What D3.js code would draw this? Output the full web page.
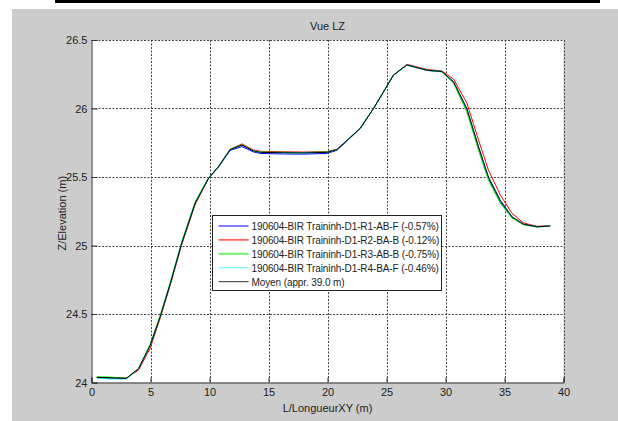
<!DOCTYPE html>
<html>
<head>
<meta charset="utf-8">
<script src="https://cdn.jsdelivr.net/npm/d3@7"></script>
<style>
  body { margin: 0; background: #fff; }
  text { font-family: "Liberation Sans", Arial, sans-serif; fill: #222; }
</style>
</head>
<body>
<svg id="chart"></svg>
<script>
// distance along profile (m)
const dist = [0.45, 1.5, 2.95, 3.98, 4.97, 5.82, 6.67, 7.66, 8.79, 9.92, 10.76, 11.75, 12.75, 13.73, 14.3, 16.27, 18.0, 19.95, 20.8, 22.77, 23.9, 25.6, 26.73, 28.42, 29.69, 30.68, 31.81, 32.8, 33.64, 34.64, 35.63, 36.6, 37.74, 38.87];

const zR1 = [24.036, 24.033, 24.030, 24.10, 24.27, 24.48, 24.72, 25.02, 25.31, 25.49, 25.572, 25.695, 25.722, 25.683, 25.672, 25.668, 25.667, 25.672, 25.695, 25.853, 26.0, 26.245, 26.318, 26.278, 26.268, 26.19, 25.99, 25.71, 25.49, 25.32, 25.205, 25.155, 25.137, 25.142];
const zR2 = [24.038, 24.036, 24.032, 24.09, 24.25, 24.47, 24.71, 25.01, 25.30, 25.49, 25.575, 25.702, 25.742, 25.697, 25.688, 25.684, 25.682, 25.686, 25.702, 25.855, 26.0, 26.245, 26.322, 26.285, 26.274, 26.215, 26.04, 25.77, 25.55, 25.37, 25.235, 25.165, 25.14, 25.144];
const zR3 = [24.042, 24.040, 24.031, 24.10, 24.28, 24.49, 24.73, 25.03, 25.32, 25.495, 25.578, 25.702, 25.735, 25.692, 25.683, 25.68, 25.679, 25.683, 25.70, 25.857, 26.0, 26.243, 26.316, 26.28, 26.268, 26.185, 25.975, 25.695, 25.475, 25.31, 25.2, 25.152, 25.135, 25.141];
const zR4 = [24.034, 24.026, 24.026, 24.10, 24.27, 24.48, 24.72, 25.02, 25.31, 25.49, 25.575, 25.70, 25.733, 25.69, 25.68, 25.677, 25.676, 25.68, 25.70, 25.855, 26.0, 26.247, 26.318, 26.28, 26.27, 26.196, 26.0, 25.72, 25.50, 25.33, 25.21, 25.156, 25.137, 25.142];
const zMoy = [24.037, 24.034, 24.030, 24.10, 24.27, 24.48, 24.72, 25.02, 25.31, 25.49, 25.575, 25.70, 25.733, 25.69, 25.68, 25.677, 25.676, 25.68, 25.70, 25.855, 26.0, 26.245, 26.318, 26.28, 26.27, 26.196, 26.0, 25.72, 25.50, 25.33, 25.21, 25.156, 25.137, 25.142];

const seriesNames = [
  "190604-BIR Traininh-D1-R1-AB-F (-0.57%)",
  "190604-BIR Traininh-D1-R2-BA-B (-0.12%)",
  "190604-BIR Traininh-D1-R3-AB-B (-0.75%)",
  "190604-BIR Traininh-D1-R4-BA-F (-0.46%)",
  "Moyen (appr. 39.0 m)"
];
const seriesColors = ["#0000ff", "#ff0000", "#00ee00", "#00ffff", "#000000"];
const legendColors = ["#8080ff", "#ff2020", "#70f070", "#70ffff", "#555555"];

const xTicks = [0, 5, 10, 15, 20, 25, 30, 35, 40];
const yTicks = [24, 24.5, 25, 25.5, 26, 26.5];

const width = 618, height = 421;
const svg = d3.select("#chart").attr("width", width).attr("height", height);

// window decoration
svg.append("rect").attr("x", 55).attr("y", 0).attr("width", 545).attr("height", 3).attr("fill", "#000");
svg.append("rect").attr("x", 12).attr("y", 9).attr("width", width - 12).attr("height", height - 9).attr("fill", "#cccccc");

const pLeft = 91.5, pRight = 563.5, pTop = 40, pBottom = 382.5;

const x = d3.scaleLinear().domain([0, 40]).range([pLeft, pRight]);
const y = d3.scaleLinear().domain([24, 26.5]).range([pBottom, pTop]);

svg.append("rect").attr("x", pLeft).attr("y", pTop)
  .attr("width", pRight - pLeft).attr("height", pBottom - pTop).attr("fill", "#fff");

// grid
const grid = svg.append("g").attr("stroke", "#444").attr("stroke-width", 1).attr("stroke-dasharray", "2,1.5");
grid.selectAll(".gx").data(xTicks.slice(1)).enter().append("line")
  .attr("x1", d => Math.round(x(d)) + 0.5).attr("x2", d => Math.round(x(d)) + 0.5)
  .attr("y1", pTop).attr("y2", pBottom);
grid.selectAll(".gy").data(yTicks.slice(1)).enter().append("line")
  .attr("y1", d => Math.round(y(d)) + 0.5).attr("y2", d => Math.round(y(d)) + 0.5)
  .attr("x1", pLeft).attr("x2", pRight);

// axes
const xAxis = d3.axisBottom(x).tickValues(xTicks).tickSize(-5).tickPadding(8);
const yAxis = d3.axisLeft(y).tickValues(yTicks).tickSize(-6).tickPadding(4).tickFormat(d3.format("~g"));

const gx = svg.append("g").attr("transform", `translate(0,${pBottom})`).call(xAxis);
const gy = svg.append("g").attr("transform", `translate(${pLeft},0)`).call(yAxis);
[gx, gy].forEach(g => {
  g.select(".domain").attr("stroke", "#333");
  g.selectAll(".tick line").attr("stroke", "#333");
  g.selectAll(".tick text").attr("font-size", 11).attr("fill", "#222")
    .style("font-family", "'Liberation Sans', Arial, sans-serif");
});
gx.selectAll(".tick text").attr("dy", "0.5em");

// lines
const allZ = [zR1, zR2, zR3, zR4, zMoy];
const line = d3.line().x(d => x(d[0])).y(d => y(d[1]));
allZ.forEach((z, i) => {
  const pts = dist.map((d, j) => [d, z[j]]);
  svg.append("path").datum(pts)
    .attr("d", line)
    .attr("fill", "none")
    .attr("stroke", seriesColors[i])
    .attr("stroke-width", 1);
});

// titles
svg.append("text").attr("x", (pLeft + pRight) / 2).attr("y", 30)
  .attr("text-anchor", "middle").attr("font-size", 11).text("Vue LZ");
svg.append("text").attr("x", (pLeft + pRight) / 2).attr("y", 412)
  .attr("text-anchor", "middle").attr("font-size", 11).text("L/LongueurXY (m)");
svg.append("text").attr("transform", `translate(66,${(pTop + pBottom) / 2 + 2}) rotate(-90)`)
  .attr("text-anchor", "middle").attr("font-size", 11).text("Z/Elevation (m)");

// legend
const lg = svg.append("g").attr("transform", "translate(212.5,215.5)");
lg.append("rect").attr("width", 229).attr("height", 75)
  .attr("fill", "#fff").attr("stroke", "#222").attr("stroke-width", 1);
seriesNames.forEach((name, i) => {
  const yy = 10.5 + i * 13.9;
  lg.append("line").attr("x1", 6).attr("x2", 36).attr("y1", yy).attr("y2", yy)
    .attr("stroke", legendColors[i]).attr("stroke-width", i === 0 || i === 2 ? 2 : 1.2);
  lg.append("text").attr("x", 39).attr("y", yy + 4).attr("font-size", 10)
    .attr("letter-spacing", -0.1).text(name);
});
</script>
</body>
</html>
